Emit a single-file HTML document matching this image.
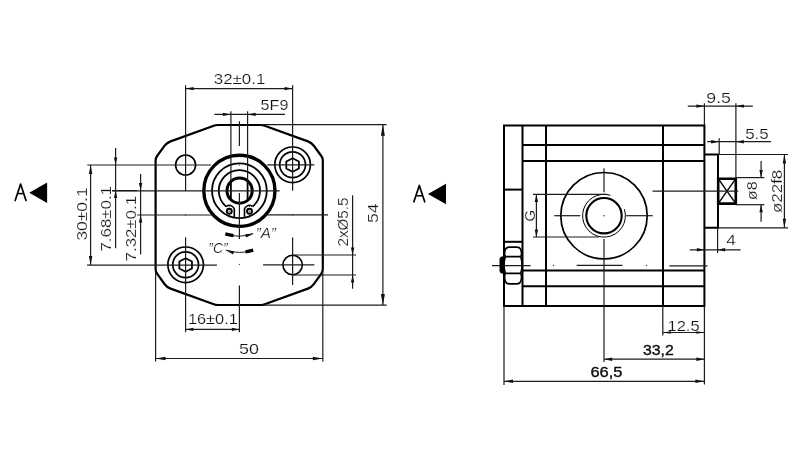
<!DOCTYPE html>
<html><head><meta charset="utf-8"><title>Gear pump drawing</title>
<style>
html,body{margin:0;padding:0;background:#fff;}
body{width:800px;height:450px;overflow:hidden;}
svg{display:block;will-change:transform;font-family:"Liberation Sans",sans-serif;}
text{stroke:#fff;stroke-width:0.2px;}
.tx{will-change:transform;}
</style></head>
<body>
<svg width="800" height="450" viewBox="0 0 800 450">
<path d="M217.4,125 L261.1,125 Q262.6,125 264.01,125.51 L307.94,141.39 Q311.7,142.75 314.05,145.98 L321.33,155.98 Q322.8,158 322.8,160.5 L322.8,269 Q322.8,271.5 321.36,273.54 L314,283.98 Q311.7,287.25 307.94,288.61 L264.01,304.49 Q262.6,305 261.1,305 L217.4,305 Q215.9,305 214.49,304.49 L170.56,288.61 Q166.8,287.25 164.48,283.99 L157.05,273.54 Q155.6,271.5 155.6,269 L155.6,160.5 Q155.6,158 157.08,155.99 L164.43,145.97 Q166.8,142.75 170.56,141.39 L214.49,125.51 Q215.9,125 217.4,125 Z" fill="none" stroke="#000" stroke-width="2.2" stroke-linejoin="round"/>
<circle cx="239.4" cy="190.8" r="35.6" fill="none" stroke="#000" stroke-width="3.4"/>
<circle cx="239.4" cy="190.8" r="27.4" fill="none" stroke="#000" stroke-width="1.8"/>
<circle cx="239.6" cy="190.65" r="12.6" fill="none" stroke="#000" stroke-width="3"/>
<line x1="230.9" y1="111.3" x2="230.9" y2="181" stroke="#1c1c1c" stroke-width="1.2" stroke-linecap="butt"/>
<line x1="230.9" y1="181" x2="230.9" y2="200" stroke="#000" stroke-width="1.8" stroke-linecap="butt"/>
<line x1="247.6" y1="111.3" x2="247.6" y2="181" stroke="#1c1c1c" stroke-width="1.2" stroke-linecap="butt"/>
<line x1="247.6" y1="181" x2="247.6" y2="200" stroke="#000" stroke-width="1.8" stroke-linecap="butt"/>
<path d="M226.16,206.58 A20.6,20.6 0 1 1 252.64,206.58" fill="none" stroke="#000" stroke-width="1.8" />
<path d="M226.16,206.58 A5.0,5.0 0 0 1 234.3,211.3 L234.3,217.5" fill="none" stroke="#000" stroke-width="1.6" />
<path d="M252.64,206.58 A5.0,5.0 0 0 0 244.5,211.3 L244.5,217.5" fill="none" stroke="#000" stroke-width="1.6" />
<circle cx="229.3" cy="211.3" r="2.5" fill="none" stroke="#000" stroke-width="1.9"/>
<circle cx="229.3" cy="211.3" r="0.9" fill="#666"/>
<line x1="229.3" y1="205.1" x2="229.3" y2="206.9" stroke="#1c1c1c" stroke-width="0.9" stroke-linecap="butt"/>
<line x1="229.3" y1="215.7" x2="229.3" y2="217.5" stroke="#1c1c1c" stroke-width="0.9" stroke-linecap="butt"/>
<circle cx="249.5" cy="211.3" r="2.5" fill="none" stroke="#000" stroke-width="1.9"/>
<circle cx="249.5" cy="211.3" r="0.9" fill="#666"/>
<line x1="249.5" y1="205.1" x2="249.5" y2="206.9" stroke="#1c1c1c" stroke-width="0.9" stroke-linecap="butt"/>
<line x1="249.5" y1="215.7" x2="249.5" y2="217.5" stroke="#1c1c1c" stroke-width="0.9" stroke-linecap="butt"/>
<line x1="112.2" y1="190.8" x2="279.7" y2="190.8" stroke="#1c1c1c" stroke-width="1.2" stroke-linecap="butt"/>
<line x1="239.4" y1="121.3" x2="239.4" y2="146" stroke="#1c1c1c" stroke-width="1.2" stroke-linecap="butt"/>
<circle cx="239.4" cy="165" r="0.6" fill="#1c1c1c"/>
<line x1="239.4" y1="193" x2="239.4" y2="239" stroke="#1c1c1c" stroke-width="1.2" stroke-linecap="butt"/>
<circle cx="239.4" cy="264.3" r="0.6" fill="#1c1c1c"/>
<line x1="239.4" y1="285.6" x2="239.4" y2="332.3" stroke="#1c1c1c" stroke-width="1.2" stroke-linecap="butt"/>
<circle cx="185.6" cy="165" r="10" fill="none" stroke="#000" stroke-width="1.6"/>
<circle cx="292.6" cy="164.8" r="17.8" fill="none" stroke="#000" stroke-width="1.7"/>
<circle cx="292.6" cy="164.8" r="12.9" fill="none" stroke="#000" stroke-width="1.7"/>
<path d="M292.6,158.2 L298.9,161.5 L298.9,168.5 L292.6,171.8 L286.3,168.5 L286.3,161.5 Z" fill="none" stroke="#000" stroke-width="1.8" stroke-linejoin="round"/>
<circle cx="185.65" cy="264.8" r="17.8" fill="none" stroke="#000" stroke-width="1.7"/>
<circle cx="185.65" cy="264.8" r="12.9" fill="none" stroke="#000" stroke-width="1.7"/>
<path d="M185.65,258.2 L191.95,261.5 L191.95,268.5 L185.65,271.8 L179.35,268.5 L179.35,261.5 Z" fill="none" stroke="#000" stroke-width="1.8" stroke-linejoin="round"/>
<circle cx="292.6" cy="265" r="9.7" fill="none" stroke="#000" stroke-width="1.6"/>
<line x1="185.6" y1="85.3" x2="185.6" y2="191" stroke="#1c1c1c" stroke-width="1.2" stroke-linecap="butt"/>
<circle cx="185.6" cy="214.8" r="0.6" fill="#1c1c1c"/>
<line x1="185.6" y1="237.2" x2="185.6" y2="332.3" stroke="#1c1c1c" stroke-width="1.2" stroke-linecap="butt"/>
<line x1="292.6" y1="85.3" x2="292.6" y2="190.8" stroke="#1c1c1c" stroke-width="1.2" stroke-linecap="butt"/>
<circle cx="292.6" cy="214.8" r="0.6" fill="#1c1c1c"/>
<line x1="292.6" y1="237.5" x2="292.6" y2="285" stroke="#1c1c1c" stroke-width="1.2" stroke-linecap="butt"/>
<line x1="87.3" y1="165" x2="211" y2="165" stroke="#1c1c1c" stroke-width="1.2" stroke-linecap="butt"/>
<line x1="267.2" y1="164.9" x2="314.4" y2="164.9" stroke="#1c1c1c" stroke-width="1.2" stroke-linecap="butt"/>
<line x1="137.2" y1="215" x2="213.8" y2="215" stroke="#1c1c1c" stroke-width="1.2" stroke-linecap="butt"/>
<line x1="265" y1="214.8" x2="328" y2="214.8" stroke="#1c1c1c" stroke-width="1.2" stroke-linecap="butt"/>
<line x1="87.1" y1="265.1" x2="216.9" y2="265.1" stroke="#1c1c1c" stroke-width="1.2" stroke-linecap="butt"/>
<line x1="263.1" y1="264.9" x2="314.4" y2="264.9" stroke="#1c1c1c" stroke-width="1.2" stroke-linecap="butt"/>
<line x1="292.6" y1="255" x2="356" y2="255" stroke="#1c1c1c" stroke-width="1.2" stroke-linecap="butt"/>
<line x1="292.6" y1="275" x2="356" y2="275" stroke="#1c1c1c" stroke-width="1.2" stroke-linecap="butt"/>
<line x1="185.6" y1="88.6" x2="292.5" y2="88.6" stroke="#1c1c1c" stroke-width="1.2" stroke-linecap="butt"/>
<path d="M185.6,88.6 L193.6,86.9 L193.6,90.3 Z" fill="#111"/>
<path d="M292.5,88.6 L284.5,90.3 L284.5,86.9 Z" fill="#111"/>
<text x="213.8" y="84" font-size="15" text-anchor="start" fill="#111" textLength="51.5" lengthAdjust="spacingAndGlyphs" >32±0.1</text>
<line x1="214.4" y1="114.4" x2="285" y2="114.4" stroke="#1c1c1c" stroke-width="1.2" stroke-linecap="butt"/>
<path d="M230.9,114.4 L222.9,116.1 L222.9,112.7 Z" fill="#111"/>
<path d="M247.6,114.4 L255.6,112.7 L255.6,116.1 Z" fill="#111"/>
<text x="260.6" y="109.7" font-size="15" text-anchor="start" fill="#111" textLength="27.8" lengthAdjust="spacingAndGlyphs" >5F9</text>
<line x1="262.6" y1="124.7" x2="386.5" y2="124.7" stroke="#1c1c1c" stroke-width="1.2" stroke-linecap="butt"/>
<line x1="262.6" y1="305.1" x2="386.7" y2="305.1" stroke="#1c1c1c" stroke-width="1.2" stroke-linecap="butt"/>
<line x1="382.9" y1="124.7" x2="382.9" y2="305.1" stroke="#1c1c1c" stroke-width="1.2" stroke-linecap="butt"/>
<path d="M382.9,124.7 L384.9,135.7 L380.9,135.7 Z" fill="#111"/>
<path d="M382.9,305.1 L380.9,294.1 L384.9,294.1 Z" fill="#111"/>
<text transform="translate(378.3,213.3) rotate(-90)" x="0" y="0" font-size="15" text-anchor="middle" fill="#111" textLength="19.6" lengthAdjust="spacingAndGlyphs">54</text>
<line x1="352.6" y1="195.3" x2="352.6" y2="288.7" stroke="#1c1c1c" stroke-width="1.2" stroke-linecap="butt"/>
<path d="M352.6,255 L350.9,247.5 L354.3,247.5 Z" fill="#111"/>
<path d="M352.6,275 L354.3,282.5 L350.9,282.5 Z" fill="#111"/>
<text transform="translate(348.3,222) rotate(-90)" x="0" y="0" font-size="15" text-anchor="middle" fill="#111" textLength="48.8" lengthAdjust="spacingAndGlyphs">2xØ5.5</text>
<line x1="90.6" y1="165" x2="90.6" y2="265.1" stroke="#1c1c1c" stroke-width="1.2" stroke-linecap="butt"/>
<path d="M90.6,165 L92.3,174 L88.9,174 Z" fill="#111"/>
<path d="M90.6,265.1 L88.9,256.1 L92.3,256.1 Z" fill="#111"/>
<text transform="translate(86.7,214) rotate(-90)" x="0" y="0" font-size="15" text-anchor="middle" fill="#111" textLength="53.2" lengthAdjust="spacingAndGlyphs">30±0.1</text>
<line x1="115.6" y1="148" x2="115.6" y2="248.2" stroke="#1c1c1c" stroke-width="1.2" stroke-linecap="butt"/>
<line x1="112.2" y1="190.6" x2="137" y2="190.6" stroke="#1c1c1c" stroke-width="1.2" stroke-linecap="butt"/>
<path d="M115.6,165 L113.9,157.5 L117.3,157.5 Z" fill="#111"/>
<path d="M115.6,190.6 L117.3,198.1 L113.9,198.1 Z" fill="#111"/>
<text transform="translate(111.3,218.8) rotate(-90)" x="0" y="0" font-size="15" text-anchor="middle" fill="#111" textLength="65.5" lengthAdjust="spacingAndGlyphs">7.68±0.1</text>
<line x1="140.6" y1="174" x2="140.6" y2="254.4" stroke="#1c1c1c" stroke-width="1.2" stroke-linecap="butt"/>
<path d="M140.6,190.6 L138.9,183.1 L142.3,183.1 Z" fill="#111"/>
<path d="M140.6,215 L142.3,222.5 L138.9,222.5 Z" fill="#111"/>
<text transform="translate(136.4,228.7) rotate(-90)" x="0" y="0" font-size="15" text-anchor="middle" fill="#111" textLength="65.4" lengthAdjust="spacingAndGlyphs">7.32±0.1</text>
<line x1="185.9" y1="329.4" x2="239.4" y2="329.4" stroke="#1c1c1c" stroke-width="1.2" stroke-linecap="butt"/>
<path d="M185.9,329.4 L193.4,327.7 L193.4,331.1 Z" fill="#111"/>
<path d="M239.4,329.4 L231.9,331.1 L231.9,327.7 Z" fill="#111"/>
<text x="187.9" y="324.4" font-size="15" text-anchor="start" fill="#111" textLength="49.9" lengthAdjust="spacingAndGlyphs" >16±0.1</text>
<line x1="155.6" y1="271.5" x2="155.6" y2="361.5" stroke="#1c1c1c" stroke-width="1.2" stroke-linecap="butt"/>
<line x1="322.8" y1="271.5" x2="322.8" y2="361.5" stroke="#1c1c1c" stroke-width="1.2" stroke-linecap="butt"/>
<line x1="155.5" y1="358.5" x2="322.8" y2="358.5" stroke="#1c1c1c" stroke-width="1.2" stroke-linecap="butt"/>
<path d="M155.5,358.5 L165.5,356.7 L165.5,360.3 Z" fill="#111"/>
<path d="M322.8,358.5 L312.8,360.3 L312.8,356.7 Z" fill="#111"/>
<text x="239" y="354.4" font-size="15" text-anchor="start" fill="#111" textLength="19.8" lengthAdjust="spacingAndGlyphs" >50</text>
<path d="M226,234.3 Q239.4,238.4 253,233.6" fill="none" stroke="#1c1c1c" stroke-width="1" />
<path d="M225.3,233.9 Q229.5,235.0 233.5,235.7" fill="none" stroke="#000" stroke-width="3.2" />
<path d="M253.8,233.5 L246.15,237.57 L245.17,234.31 Z" fill="#111"/>
<path d="M226,250.2 Q239.4,254.6 253,250.3" fill="none" stroke="#1c1c1c" stroke-width="1" />
<path d="M245.5,251.9 Q249,251.3 253.2,250.1" fill="none" stroke="#000" stroke-width="3.2" />
<path d="M225.6,250.1 L234.18,251.3 L233.06,254.51 Z" fill="#111"/>
<text x="255.7" y="238" font-size="14" text-anchor="start" fill="#111" textLength="20.2" lengthAdjust="spacingAndGlyphs" font-style="italic">”A”</text>
<text x="208.3" y="252.6" font-size="14" text-anchor="start" fill="#111" textLength="19.2" lengthAdjust="spacingAndGlyphs" font-style="italic">”C”</text>
<path d="M15.2,200.5 L20.6,184 L26,200.5" fill="none" stroke="#000" stroke-width="1.7" stroke-linecap="round" stroke-linejoin="round"/>
<line x1="17.8" y1="193.6" x2="23.4" y2="193.6" stroke="#000" stroke-width="1.5" stroke-linecap="butt"/>
<path d="M29.3,192.7 L47.1,182.4 L47.1,202.9 Z" fill="#000"/>
<path d="M413.9,201.8 L419.3,185.4 L424.7,201.8" fill="none" stroke="#000" stroke-width="1.7" stroke-linecap="round" stroke-linejoin="round"/>
<line x1="416.5" y1="195.8" x2="422.1" y2="195.8" stroke="#000" stroke-width="1.5" stroke-linecap="butt"/>
<path d="M428,194 L446,183.8 L446,204.2 Z" fill="#000"/>
<path d="M504,125.6 L704.4,125.6 L704.4,306 L504,306 Z" fill="none" stroke="#000" stroke-width="2" stroke-linejoin="miter"/>
<line x1="522.5" y1="125.6" x2="522.5" y2="306" stroke="#000" stroke-width="2" stroke-linecap="butt"/>
<line x1="546" y1="125.6" x2="546" y2="306" stroke="#000" stroke-width="2" stroke-linecap="butt"/>
<line x1="663" y1="125.6" x2="663" y2="306" stroke="#000" stroke-width="2" stroke-linecap="butt"/>
<line x1="522.5" y1="145" x2="704.4" y2="145" stroke="#000" stroke-width="2" stroke-linecap="butt"/>
<line x1="522.5" y1="161" x2="704.4" y2="161" stroke="#000" stroke-width="2" stroke-linecap="butt"/>
<line x1="522.5" y1="270.6" x2="704.4" y2="270.6" stroke="#000" stroke-width="2" stroke-linecap="butt"/>
<line x1="522.5" y1="286.2" x2="704.4" y2="286.2" stroke="#000" stroke-width="2" stroke-linecap="butt"/>
<line x1="504" y1="189.6" x2="522.5" y2="189.6" stroke="#000" stroke-width="2" stroke-linecap="butt"/>
<line x1="504" y1="241.8" x2="522.5" y2="241.8" stroke="#000" stroke-width="2" stroke-linecap="butt"/>
<path d="M704.4,154.6 L718,154.6 L718,227.8 L704.4,227.8" fill="none" stroke="#000" stroke-width="2" stroke-linejoin="miter"/>
<path d="M718.2,178.7 L735.8,178.7 L735.8,203.6 L718.2,203.6 Z" fill="none" stroke="#000" stroke-width="2.6" stroke-linejoin="miter"/>
<line x1="718.2" y1="178.7" x2="735.8" y2="203.6" stroke="#000" stroke-width="1.4" stroke-linecap="butt"/>
<line x1="735.8" y1="178.7" x2="718.2" y2="203.6" stroke="#000" stroke-width="1.4" stroke-linecap="butt"/>
<circle cx="604" cy="215.7" r="43.2" fill="none" stroke="#000" stroke-width="1.7"/>
<circle cx="604" cy="215.7" r="17.7" fill="none" stroke="#000" stroke-width="2.1"/>
<path d="M624.41,209.26 A21.4,21.4 0 1 1 610.4,195.28" fill="none" stroke="#000" stroke-width="1" />
<circle cx="604" cy="215.7" r="0.7" fill="#1c1c1c"/>
<line x1="604" y1="168.3" x2="604" y2="192.3" stroke="#1c1c1c" stroke-width="1.2" stroke-linecap="butt"/>
<line x1="604" y1="239" x2="604" y2="362" stroke="#1c1c1c" stroke-width="1.2" stroke-linecap="butt"/>
<line x1="554.3" y1="215.7" x2="580.3" y2="215.7" stroke="#1c1c1c" stroke-width="1.2" stroke-linecap="butt"/>
<line x1="626.3" y1="215.7" x2="652.7" y2="215.7" stroke="#1c1c1c" stroke-width="1.2" stroke-linecap="butt"/>
<line x1="652.5" y1="191.2" x2="738.3" y2="191.2" stroke="#1c1c1c" stroke-width="1.2" stroke-linecap="butt"/>
<line x1="492" y1="265.7" x2="530.5" y2="265.7" stroke="#1c1c1c" stroke-width="1.2" stroke-linecap="butt"/>
<circle cx="553.5" cy="265.4" r="0.6" fill="#1c1c1c"/>
<line x1="576.7" y1="265.4" x2="622.5" y2="265.4" stroke="#1c1c1c" stroke-width="1.2" stroke-linecap="butt"/>
<circle cx="646.5" cy="265.4" r="0.6" fill="#1c1c1c"/>
<line x1="669.3" y1="265.8" x2="707.6" y2="265.8" stroke="#1c1c1c" stroke-width="1.2" stroke-linecap="butt"/>
<path d="M505.3,256.7 C504.2,254.5 504.2,249.5 506.5,248 Q507.5,247.2 509.5,247.2 L516.6,247.2 Q518.6,247.2 519.6,248 C521.9,249.5 521.9,254.5 520.8,256.7" fill="none" stroke="#000" stroke-width="1.7" />
<path d="M505.3,273.3 C504.2,275.5 504.2,281 506.5,283 Q507.5,283.9 509.5,283.9 L516.6,283.9 Q518.6,283.9 519.6,283 C521.9,281 521.9,275.5 520.8,273.3" fill="none" stroke="#000" stroke-width="1.7" />
<path d="M505.3,256.7 L520.8,256.7 M505.3,273.3 L520.8,273.3" fill="none" stroke="#000" stroke-width="1.7" />
<path d="M505.3,256.7 Q502.8,265 505.3,273.3 M520.8,256.7 Q523.3,265 520.8,273.3" fill="none" stroke="#000" stroke-width="1.6" />
<path d="M504,256.7 L502,256.7 Q499.8,256.7 499.8,259.5 L499.8,270.5 Q499.8,273.3 502,273.3 L504,273.3 Z" fill="#000" stroke="#000" stroke-width="0.5" />
<line x1="533" y1="194.4" x2="606.3" y2="194.4" stroke="#1c1c1c" stroke-width="1.2" stroke-linecap="butt"/>
<line x1="533" y1="237" x2="599" y2="237" stroke="#1c1c1c" stroke-width="1.2" stroke-linecap="butt"/>
<line x1="536.4" y1="194.4" x2="536.4" y2="237" stroke="#1c1c1c" stroke-width="1.2" stroke-linecap="butt"/>
<path d="M536.4,194.4 L538.1,201.9 L534.7,201.9 Z" fill="#111"/>
<path d="M536.4,237 L534.7,229.5 L538.1,229.5 Z" fill="#111"/>
<text transform="translate(535,215.7) rotate(-90)" x="0" y="0" font-size="15" text-anchor="middle" fill="#111">G</text>
<line x1="704.4" y1="103.3" x2="704.4" y2="125.6" stroke="#1c1c1c" stroke-width="1.2" stroke-linecap="butt"/>
<line x1="735.9" y1="103.3" x2="735.9" y2="178.7" stroke="#1c1c1c" stroke-width="1.2" stroke-linecap="butt"/>
<line x1="687.8" y1="106.1" x2="752.8" y2="106.1" stroke="#1c1c1c" stroke-width="1.2" stroke-linecap="butt"/>
<path d="M704.4,106.1 L696.4,107.8 L696.4,104.4 Z" fill="#111"/>
<path d="M735.9,106.1 L743.9,104.4 L743.9,107.8 Z" fill="#111"/>
<text x="706.3" y="103.3" font-size="15" text-anchor="start" fill="#111" textLength="24.6" lengthAdjust="spacingAndGlyphs" >9.5</text>
<line x1="719.2" y1="138.3" x2="719.2" y2="154.6" stroke="#1c1c1c" stroke-width="1.2" stroke-linecap="butt"/>
<line x1="707.2" y1="141.7" x2="771" y2="141.7" stroke="#1c1c1c" stroke-width="1.2" stroke-linecap="butt"/>
<path d="M719.2,141.7 L711.2,143.4 L711.2,140 Z" fill="#111"/>
<path d="M735.9,141.7 L743.9,140 L743.9,143.4 Z" fill="#111"/>
<text x="745.2" y="138.9" font-size="15" text-anchor="start" fill="#111" textLength="23.5" lengthAdjust="spacingAndGlyphs" >5.5</text>
<line x1="718" y1="154.5" x2="788" y2="154.5" stroke="#1c1c1c" stroke-width="1.2" stroke-linecap="butt"/>
<line x1="718" y1="227.8" x2="788" y2="227.8" stroke="#1c1c1c" stroke-width="1.2" stroke-linecap="butt"/>
<line x1="784.4" y1="154.5" x2="784.4" y2="227.8" stroke="#1c1c1c" stroke-width="1.2" stroke-linecap="butt"/>
<path d="M784.4,154.5 L786.1,163.5 L782.7,163.5 Z" fill="#111"/>
<path d="M784.4,227.8 L782.7,218.8 L786.1,218.8 Z" fill="#111"/>
<text transform="translate(782.2,191.4) rotate(-90)" x="0" y="0" font-size="15" text-anchor="middle" fill="#111" textLength="43.4" lengthAdjust="spacingAndGlyphs">ø22f8</text>
<line x1="735.8" y1="177.6" x2="764.4" y2="177.6" stroke="#1c1c1c" stroke-width="1.2" stroke-linecap="butt"/>
<line x1="735.8" y1="204.7" x2="764.4" y2="204.7" stroke="#1c1c1c" stroke-width="1.2" stroke-linecap="butt"/>
<line x1="761.1" y1="161.1" x2="761.1" y2="177.6" stroke="#1c1c1c" stroke-width="1.2" stroke-linecap="butt"/>
<line x1="761.1" y1="204.7" x2="761.1" y2="221.7" stroke="#1c1c1c" stroke-width="1.2" stroke-linecap="butt"/>
<path d="M761.1,177.6 L759.4,170.1 L762.8,170.1 Z" fill="#111"/>
<path d="M761.1,204.7 L762.8,212.2 L759.4,212.2 Z" fill="#111"/>
<text transform="translate(756.7,190.8) rotate(-90)" x="0" y="0" font-size="15" text-anchor="middle" fill="#111" textLength="19" lengthAdjust="spacingAndGlyphs">ø8</text>
<line x1="717.6" y1="227.8" x2="717.6" y2="253.1" stroke="#1c1c1c" stroke-width="1.2" stroke-linecap="butt"/>
<line x1="689.8" y1="249.8" x2="740.6" y2="249.8" stroke="#1c1c1c" stroke-width="1.2" stroke-linecap="butt"/>
<path d="M704.4,249.8 L696.9,251.5 L696.9,248.1 Z" fill="#111"/>
<path d="M717.6,249.8 L725.1,248.1 L725.1,251.5 Z" fill="#111"/>
<text x="726.3" y="245" font-size="15" text-anchor="start" fill="#111" textLength="9.6" lengthAdjust="spacingAndGlyphs" >4</text>
<line x1="662.8" y1="306" x2="662.8" y2="335.6" stroke="#1c1c1c" stroke-width="1.2" stroke-linecap="butt"/>
<line x1="704.4" y1="306" x2="704.4" y2="384.4" stroke="#1c1c1c" stroke-width="1.2" stroke-linecap="butt"/>
<line x1="662.8" y1="332.5" x2="704.4" y2="332.5" stroke="#1c1c1c" stroke-width="1.2" stroke-linecap="butt"/>
<path d="M662.8,332.5 L670.8,331.2 L670.8,333.8 Z" fill="#111"/>
<path d="M704.4,332.5 L696.4,333.8 L696.4,331.2 Z" fill="#111"/>
<text x="667.5" y="330.6" font-size="15" text-anchor="start" fill="#111" textLength="32.1" lengthAdjust="spacingAndGlyphs" >12.5</text>
<line x1="604.2" y1="359.2" x2="704.4" y2="359.2" stroke="#1c1c1c" stroke-width="1.2" stroke-linecap="butt"/>
<path d="M604.2,359.2 L612.2,357.5 L612.2,360.9 Z" fill="#111"/>
<path d="M704.4,359.2 L696.4,360.9 L696.4,357.5 Z" fill="#111"/>
<text x="643" y="355.1" font-size="15" text-anchor="start" fill="#111" textLength="30.8" lengthAdjust="spacingAndGlyphs" style="stroke:#000;stroke-width:0.35px">33,2</text>
<line x1="504" y1="306" x2="504" y2="385" stroke="#1c1c1c" stroke-width="1.2" stroke-linecap="butt"/>
<line x1="504" y1="381.3" x2="704.4" y2="381.3" stroke="#1c1c1c" stroke-width="1.2" stroke-linecap="butt"/>
<path d="M504,381.3 L513,379.6 L513,383 Z" fill="#111"/>
<path d="M704.4,381.3 L695.4,383 L695.4,379.6 Z" fill="#111"/>
<text x="590.5" y="376.9" font-size="15" text-anchor="start" fill="#111" textLength="31.9" lengthAdjust="spacingAndGlyphs" style="stroke:#000;stroke-width:0.35px">66,5</text>
</svg>
</body></html>
